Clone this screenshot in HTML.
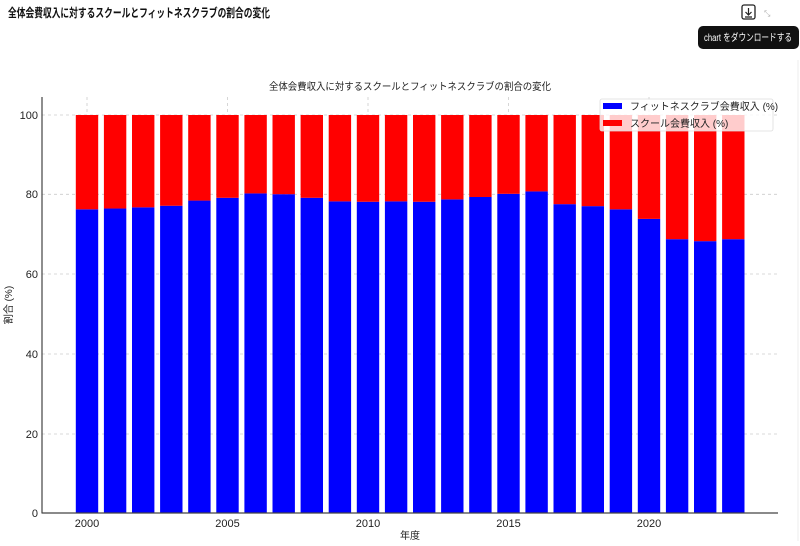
<!DOCTYPE html>
<html><head><meta charset="utf-8"><style>
body{margin:0;width:800px;height:541px;background:#fff;overflow:hidden;font-family:"Liberation Sans","Noto Sans CJK JP",sans-serif;}
</style></head><body>
<svg width="800" height="541" xmlns="http://www.w3.org/2000/svg" font-family="'Liberation Sans','Noto Sans CJK JP',sans-serif">
<text x="8" y="17" font-size="12" font-weight="bold" fill="#111" textLength="262" lengthAdjust="spacingAndGlyphs">全体会費収入に対するスクールとフィットネスクラブの割合の変化</text>
<rect x="742" y="5" width="13" height="14" rx="2" fill="none" stroke="#222" stroke-width="1.3"/>
<path d="M748.5 8v7M745.5 12l3 3 3-3M745 17h7" stroke="#222" stroke-width="1.2" fill="none"/>
<text x="764" y="16" font-size="8" fill="#aaa">⤡</text>
<rect x="698" y="26" width="101" height="23" rx="5" fill="#111"/>
<text x="748" y="41" font-size="10" fill="#fff" text-anchor="middle" textLength="88" lengthAdjust="spacingAndGlyphs">chart をダウンロードする</text>
<line x1="798" y1="60" x2="798" y2="541" stroke="#eee"/>
<text x="410" y="90" font-size="10" text-anchor="middle" fill="#222" textLength="282" lengthAdjust="spacingAndGlyphs">全体会費収入に対するスクールとフィットネスクラブの割合の変化</text>
<g stroke="#ccc" stroke-width="0.8" stroke-dasharray="3,3">
<line x1="42" x2="778" y1="434" y2="434"/><line x1="42" x2="778" y1="354" y2="354"/><line x1="42" x2="778" y1="274" y2="274"/><line x1="42" x2="778" y1="194.3" y2="194.3"/><line x1="42" x2="778" y1="115" y2="115"/>
<line x1="87" x2="87" y1="97" y2="513"/><line x1="227.5" x2="227.5" y1="97" y2="513"/><line x1="368" x2="368" y1="97" y2="513"/><line x1="508.5" x2="508.5" y1="97" y2="513"/><line x1="649" x2="649" y1="97" y2="513"/>
</g>
<g id="bars"></g>
<line x1="42" y1="97" x2="42" y2="513.5" stroke="#444" stroke-width="1.2"/>
<line x1="42" y1="513" x2="778" y2="513" stroke="#444" stroke-width="1.2"/>
<g font-size="11" fill="#222" text-anchor="end">
<text x="38" y="517">0</text><text x="38" y="438">20</text><text x="38" y="358">40</text><text x="38" y="278">60</text><text x="38" y="198">80</text><text x="38" y="119">100</text>
</g>
<g font-size="11" fill="#222" text-anchor="middle">
<text x="87" y="527">2000</text><text x="227.5" y="527">2005</text><text x="368" y="527">2010</text><text x="508.5" y="527">2015</text><text x="649" y="527">2020</text>
</g>
<text x="410" y="539" font-size="10" text-anchor="middle" fill="#222">年度</text>
<text transform="translate(12,305) rotate(-90)" font-size="10" text-anchor="middle" fill="#222">割合 (%)</text>
<rect x="600" y="99" width="173" height="32" rx="2" fill="#fff" fill-opacity="0.8" stroke="#ddd" stroke-width="0.8"/>
<rect x="603" y="103" width="19" height="6" fill="#00f"/>
<rect x="603" y="120" width="19" height="6" fill="#f00"/>
<text x="630" y="110" font-size="10" fill="#222">フィットネスクラブ会費収入 (%)</text>
<text x="630" y="127" font-size="10" fill="#222">スクール会費収入 (%)</text>
</svg>
<script>
(function(){
var v=[76.3,76.5,76.8,77.2,78.5,79.2,80.3,80.1,79.2,78.3,78.2,78.3,78.2,78.8,79.4,80.2,80.8,77.6,77.1,76.3,73.9,68.8,68.3,68.8];
var g=document.getElementById('bars'),s='';
var y0=513,k=3.98,yt=y0-100*k;
v.forEach(function(b,i){var x=87+i*28.1-11.2;var yb=y0-b*k;
s+='<rect x="'+x+'" y="'+yb+'" width="22.4" height="'+(y0-yb)+'" fill="#00f"/>';
s+='<rect x="'+x+'" y="'+yt+'" width="22.4" height="'+(yb-yt)+'" fill="#f00"/>';});
g.innerHTML=s;
})();
</script>
</body></html>
